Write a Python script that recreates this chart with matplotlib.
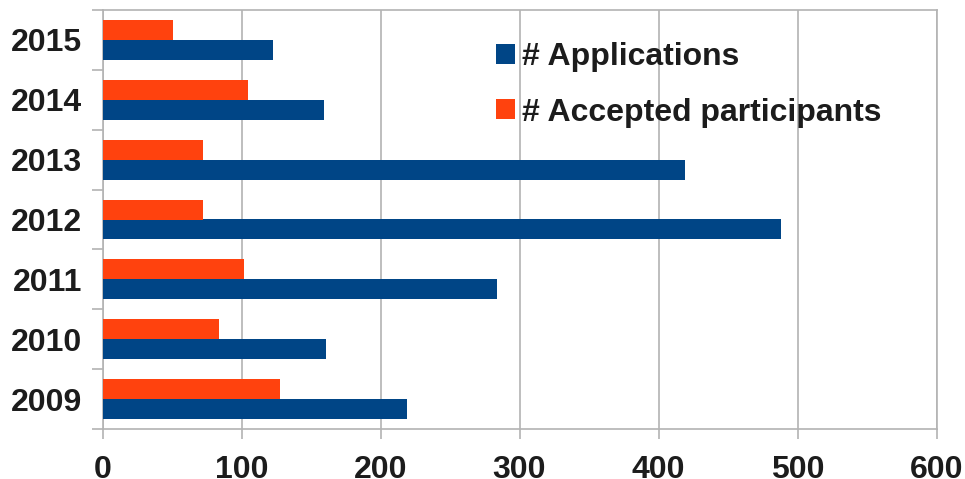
import matplotlib
matplotlib.use("Agg")
import matplotlib.pyplot as plt
import numpy as np

years = ["2009", "2010", "2011", "2012", "2013", "2014", "2015"]
applications = [219, 161, 284, 488, 419, 159, 123]
accepted = [128, 84, 102, 72, 72, 105, 51]
xticks = [0, 100, 200, 300, 400, 500, 600]

plt.rcParams['font.family'] = ['Liberation Sans', 'DejaVu Sans']
plt.rcParams['font.weight'] = 'bold'

fig = plt.figure(figsize=(9.65, 4.79), dpi=100)
ax = fig.add_axes([102.5/965, 1-429/479, (936.5-102.5)/965, (429-10)/479])

y = np.arange(len(years))
h = 1/3
blue = '#004586'
orange = '#ff420e'
ax.barh(y - h/2, applications, height=h, color=blue, label='# Applications', zorder=3)
ax.barh(y + h/2, accepted, height=h, color=orange, label='# Accepted participants', zorder=3)

ax.set_xlim(0, 600)
ax.set_ylim(-0.5, len(years) - 0.5)
ax.set_xticks(xticks)
ax.set_xticklabels([str(v) for v in xticks])
ax.set_yticks(y)
ax.set_yticklabels(years)
ax.set_yticks(np.arange(-0.5, len(years)), minor=True)

grid_c = '#b3b3b3'
ax.grid(axis='x', color=grid_c, linewidth=1.2, zorder=0)
for s in ax.spines.values():
    s.set_color(grid_c)
    s.set_linewidth(1.2)

fs = 23
txt = '#1c1c1c'
ax.tick_params(axis='y', which='major', length=0, pad=14.5, labelsize=fs, labelcolor=txt)
ax.tick_params(axis='y', which='minor', length=8, color=grid_c, width=1.2)
ax.tick_params(axis='x', which='major', length=7, color=grid_c, width=1.2, pad=12, labelsize=fs, labelcolor=txt)
for lab in ax.get_xticklabels() + ax.get_yticklabels():
    lab.set_fontweight('bold')

handles, labels = ax.get_legend_handles_labels()
leg = ax.legend(handles, labels, loc='upper left', bbox_to_anchor=(496/965, 1-42/479),
                bbox_transform=fig.transFigure, frameon=False, fontsize=fs,
                handlelength=0.6, handleheight=0.6, handletextpad=0.22,
                labelspacing=0.8, borderpad=0, borderaxespad=0)
for t in leg.get_texts():
    t.set_color(txt)
    t.set_fontweight('bold')

fig.savefig('out.png', dpi=100)
